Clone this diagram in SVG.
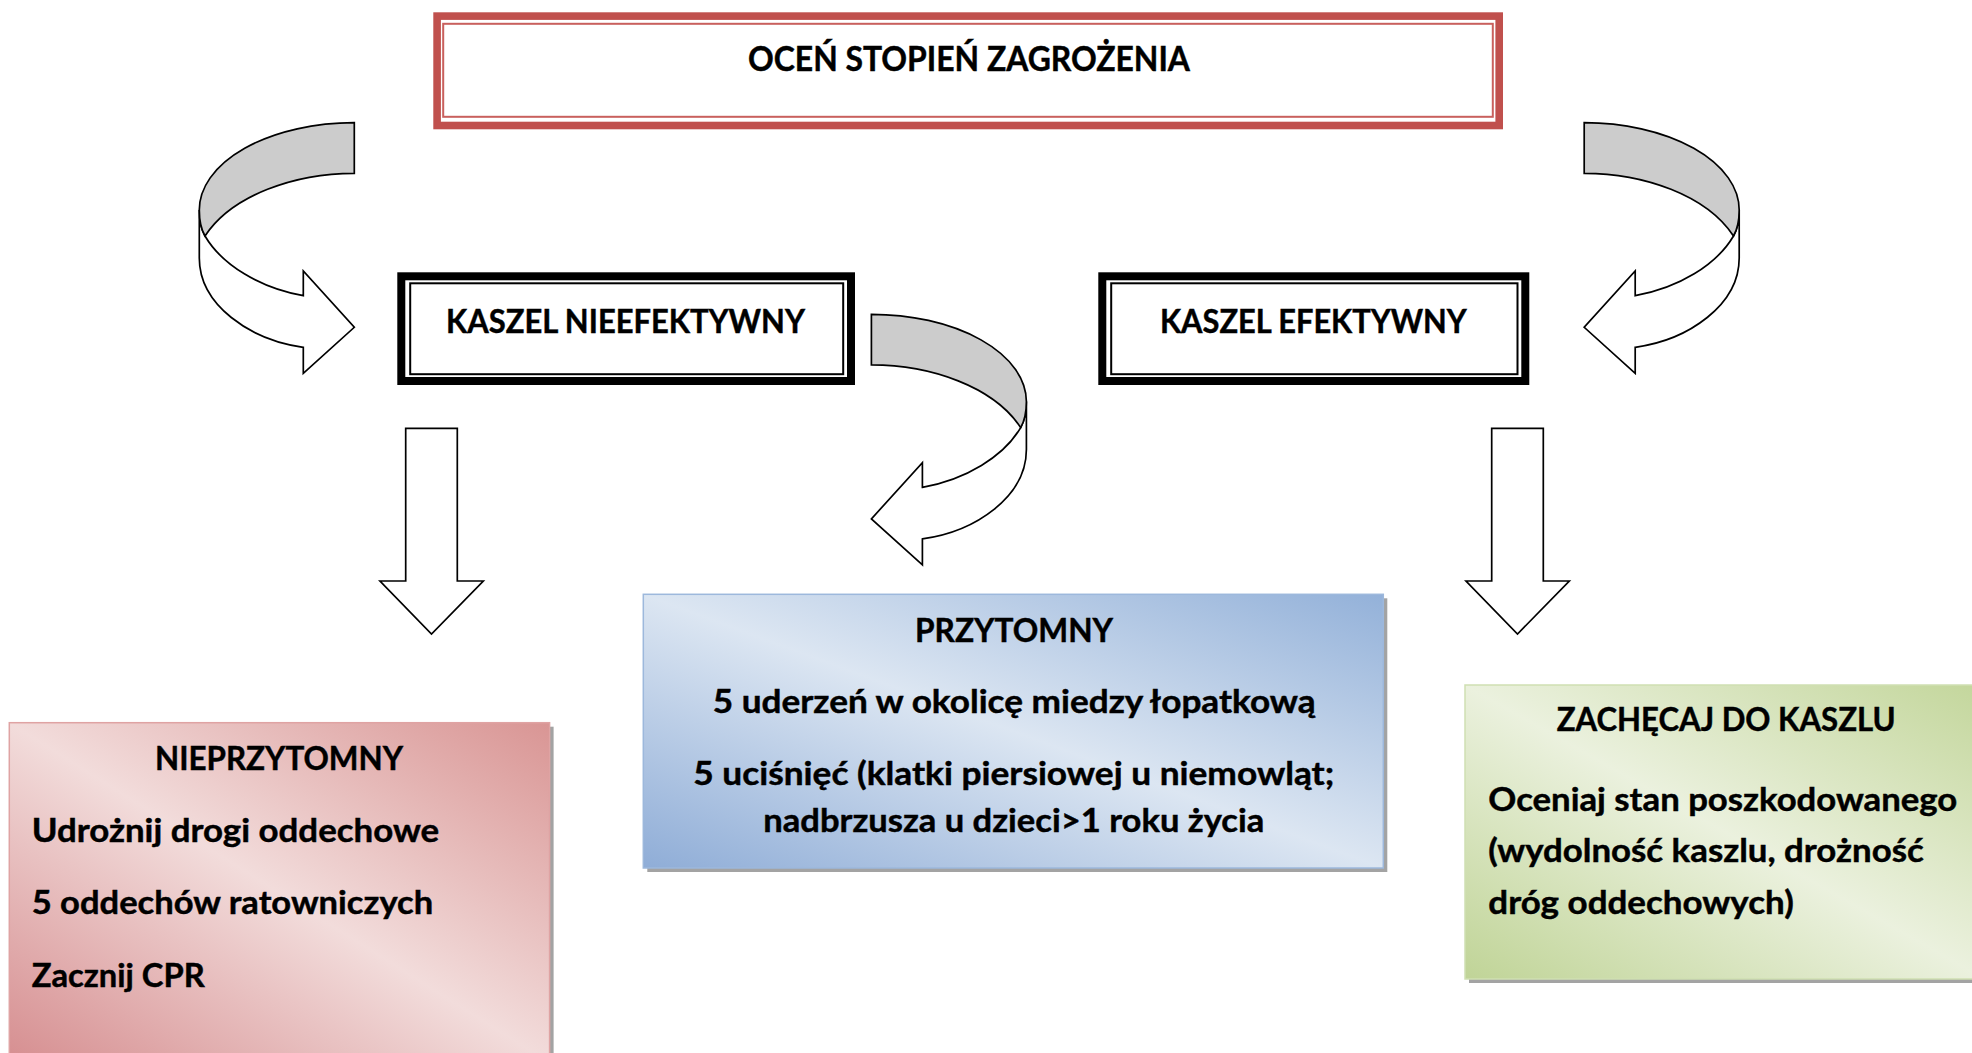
<svg xmlns="http://www.w3.org/2000/svg" xmlns:xlink="http://www.w3.org/1999/xlink" width="1972" height="1053" viewBox="0 0 1972 1053">
  <style>
    .t { font-family: Lato, "Open Sans", "Liberation Sans", sans-serif; font-weight: 700; fill: #000; stroke: #000; stroke-width: 0.45; }
    .b { font-size: 32px; }
    .h { font-size: 34.5px; }
    .arw { stroke: #000; stroke-width: 1.7; stroke-linejoin: miter; }
    .face { fill: #ffffff; }
    .back { fill: #cccccc; }
    .shadow { fill: #a3a3a3; }
  </style>
  <defs>
    <linearGradient id="gBlue" x1="0" y1="1" x2="1" y2="0">
      <stop offset="0" stop-color="#8fadd7"/>
      <stop offset="0.5" stop-color="#dce6f2"/>
      <stop offset="1" stop-color="#93b1d9"/>
    </linearGradient>
    <linearGradient id="gRed" x1="0" y1="1" x2="1" y2="0">
      <stop offset="0" stop-color="#d68e90"/>
      <stop offset="0.5" stop-color="#f2dcdb"/>
      <stop offset="1" stop-color="#d99594"/>
    </linearGradient>
    <linearGradient id="gGreen" x1="0" y1="1" x2="1" y2="0">
      <stop offset="0" stop-color="#c0d497"/>
      <stop offset="0.5" stop-color="#ebf1de"/>
      <stop offset="1" stop-color="#c3d69b"/>
    </linearGradient>
    <g id="curved">
      <path class="face arw" d="M199.3,210 L199.3,258 C199.3,305 250,340 303.3,347.3 L303.3,373.3 L354.3,327.3 L303.3,271 L303.3,295.7 C260,288 222,265 205,236 Q199.3,226 199.3,210 Z"/>
      <path class="back arw" d="M354.3,122.7 A155,87.3 0 0 0 199.3,210 Q199.3,226 205,236 C232,195 295,173.3 354.3,173.3 Z"/>
    </g>
    <path id="down" class="face arw" d="M405.7,428.3 H457.3 V581 H483.3 L431.5,634 L380,581 H405.7 Z"/>
  </defs>

  <g id="connectors">
    <use id="arrow-left-curved" xlink:href="#curved"/>
    <use id="arrow-right-curved" xlink:href="#curved" transform="translate(1938.5,0) scale(-1,1)"/>
    <use id="arrow-middle-curved" xlink:href="#curved" transform="translate(1225.7,191.6) scale(-1,1)"/>
    <use id="arrow-left-down" xlink:href="#down"/>
    <use id="arrow-right-down" xlink:href="#down" transform="translate(1086,0)"/>
  </g>

  <g id="node-ocen">
    <rect x="437.1" y="16.1" width="1062.1" height="109.4" fill="#ffffff" stroke="#c0504d" stroke-width="7.6"/>
    <rect x="443.2" y="23.8" width="1049.6" height="93" fill="none" stroke="#c9605d" stroke-width="2"/>
    <text class="t h" x="748" y="71" textLength="442" lengthAdjust="spacingAndGlyphs">OCEŃ STOPIEŃ ZAGROŻENIA</text>
  </g>

  <g id="node-nieefektywny">
    <rect x="401.3" y="276.3" width="449.7" height="104.7" fill="#ffffff" stroke="#000" stroke-width="8"/>
    <rect x="410.2" y="283.3" width="433" height="90.9" fill="none" stroke="#000" stroke-width="2"/>
    <text class="t b" x="446" y="333" textLength="359" lengthAdjust="spacingAndGlyphs">KASZEL NIEEFEKTYWNY</text>
  </g>

  <g id="node-efektywny">
    <rect x="1102.3" y="276.3" width="423" height="104.7" fill="#ffffff" stroke="#000" stroke-width="8"/>
    <rect x="1111.2" y="283.3" width="406.3" height="90.9" fill="none" stroke="#000" stroke-width="2"/>
    <text class="t b" x="1160" y="333" textLength="306.7" lengthAdjust="spacingAndGlyphs">KASZEL EFEKTYWNY</text>
  </g>

  <g id="node-przytomny">
    <rect class="shadow" x="647.3" y="598.3" width="740" height="273.7"/>
    <rect x="643.3" y="594.3" width="740" height="273.7" fill="url(#gBlue)" stroke="#9db8dc" stroke-width="1.5"/>
    <text class="t b" x="915" y="641.7" textLength="198" lengthAdjust="spacingAndGlyphs">PRZYTOMNY</text>
    <text class="t b" x="712.7" y="713.3" textLength="603" lengthAdjust="spacingAndGlyphs">5 uderzeń w okolicę miedzy łopatkową</text>
    <text class="t b" x="693.3" y="785" textLength="641" lengthAdjust="spacingAndGlyphs">5 uciśnięć (klatki piersiowej u niemowląt;</text>
    <text class="t b" x="763.3" y="831.7" textLength="501" lengthAdjust="spacingAndGlyphs">nadbrzusza u dzieci&gt;1 roku życia</text>
  </g>

  <g id="node-nieprzytomny">
    <rect class="shadow" x="13.3" y="726.7" width="540.3" height="340"/>
    <rect x="9.3" y="722.7" width="540.3" height="340" fill="url(#gRed)" stroke="#dfa3a3" stroke-width="1.5"/>
    <text class="t b" x="155" y="770" textLength="248" lengthAdjust="spacingAndGlyphs">NIEPRZYTOMNY</text>
    <text class="t b" x="31.7" y="841.7" textLength="407.5" lengthAdjust="spacingAndGlyphs">Udrożnij drogi oddechowe</text>
    <text class="t b" x="31.7" y="914" textLength="401.5" lengthAdjust="spacingAndGlyphs">5 oddechów ratowniczych</text>
    <text class="t b" x="31.7" y="986.7" textLength="173" lengthAdjust="spacingAndGlyphs">Zacznij CPR</text>
  </g>

  <g id="node-zachecaj">
    <rect class="shadow" x="1469" y="689" width="520" height="294"/>
    <rect x="1465" y="685" width="520" height="294" fill="url(#gGreen)" stroke="#cfdfb2" stroke-width="1.5"/>
    <text class="t b" x="1556.7" y="731" textLength="339" lengthAdjust="spacingAndGlyphs">ZACHĘCAJ DO KASZLU</text>
    <text class="t b" x="1488.3" y="811" textLength="469" lengthAdjust="spacingAndGlyphs">Oceniaj stan poszkodowanego</text>
    <text class="t b" x="1488.3" y="862" textLength="435.5" lengthAdjust="spacingAndGlyphs">(wydolność kaszlu, drożność</text>
    <text class="t b" x="1488.3" y="913.5" textLength="305.5" lengthAdjust="spacingAndGlyphs">dróg oddechowych)</text>
  </g>
</svg>
